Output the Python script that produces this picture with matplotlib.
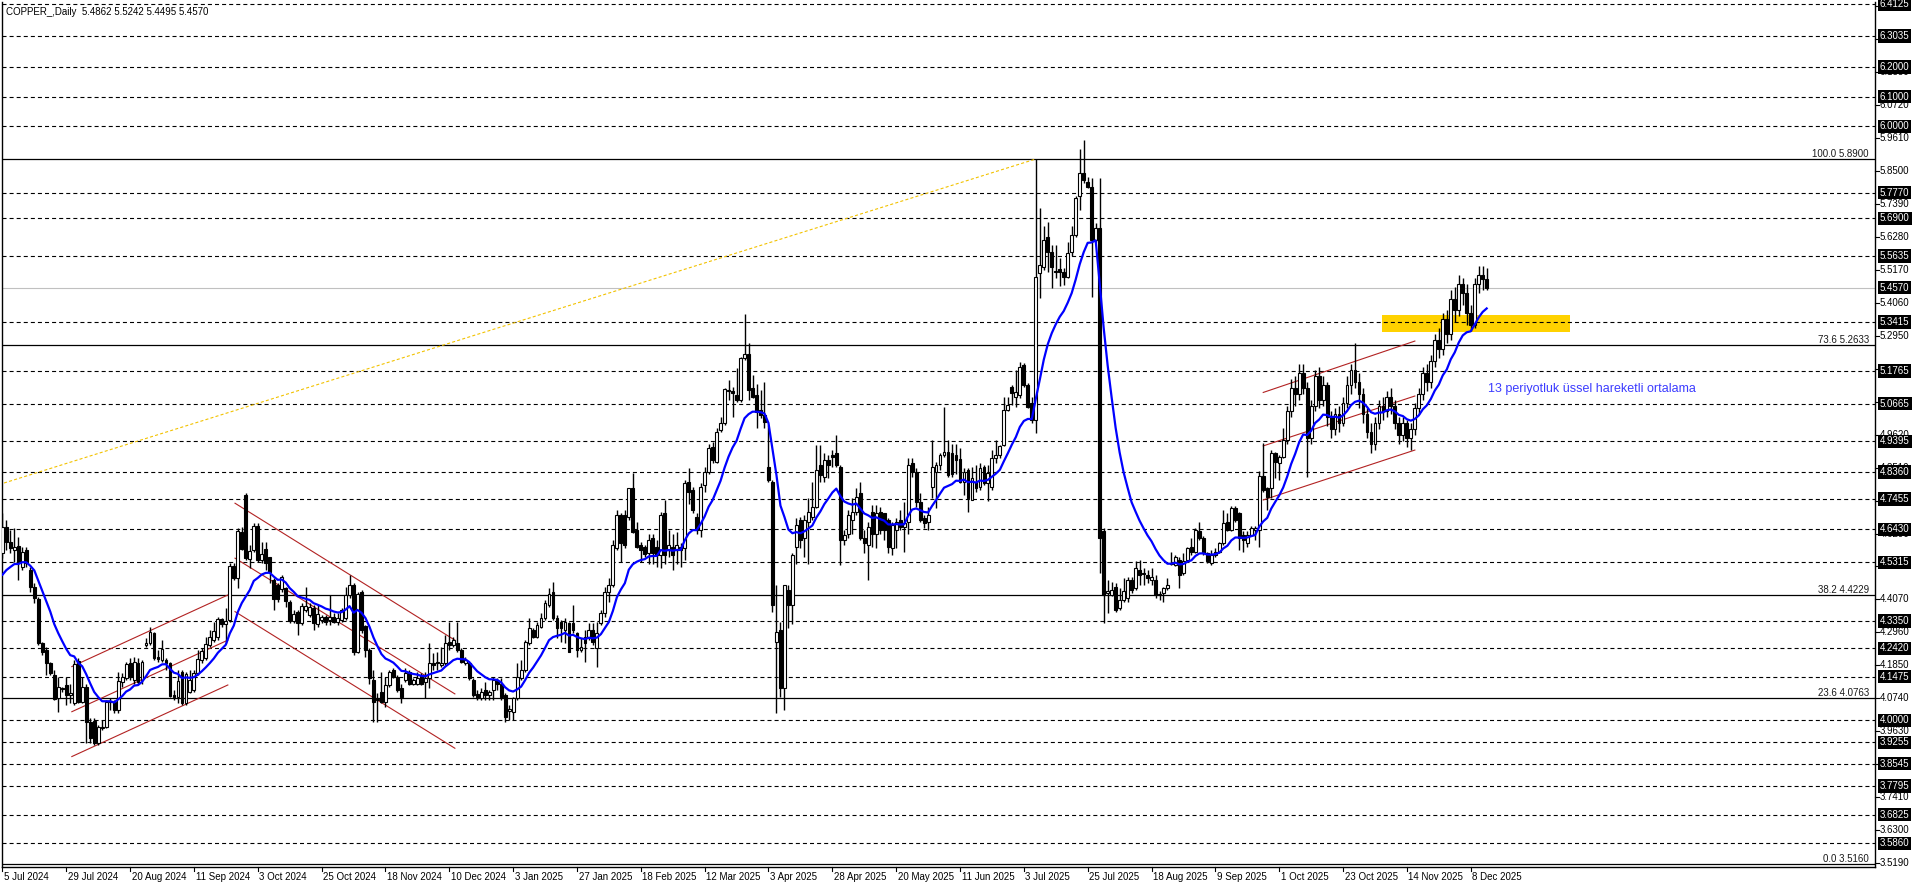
import matplotlib
matplotlib.use("Agg")
import matplotlib.pyplot as plt
import numpy as np
from matplotlib.patches import Rectangle

plt.rcParams['font.family'] = ['Liberation Sans', 'DejaVu Sans']
plt.rcParams['lines.scale_dashes'] = False

# ---------------- data (O, H, L, C) per daily bar ----------------
bars_jul_oct_2024 = [
    (4.562, 4.697, 4.545, 4.652), (4.652, 4.674, 4.574, 4.601), (4.601, 4.641, 4.562, 4.579),
    (4.574, 4.646, 4.534, 4.585), (4.587, 4.618, 4.472, 4.529), (4.517, 4.585, 4.506, 4.568),
    (4.574, 4.585, 4.517, 4.529), (4.506, 4.517, 4.433, 4.450), (4.450, 4.461, 4.394, 4.411),
    (4.407, 4.416, 4.254, 4.259), (4.259, 4.265, 4.220, 4.231), (4.237, 4.248, 4.153, 4.192),
    (4.192, 4.197, 4.153, 4.158), (4.153, 4.169, 4.068, 4.071), (4.074, 4.147, 4.029, 4.111),
    (4.108, 4.113, 4.096, 4.104), (4.119, 4.147, 4.052, 4.085), (4.085, 4.124, 4.057, 4.093),
    (4.057, 4.203, 4.052, 4.190), (4.201, 4.209, 4.057, 4.063), (4.063, 4.147, 4.057, 4.113),
    (4.113, 4.124, 3.922, 3.996), (3.996, 4.007, 3.922, 3.939), (3.999, 4.007, 3.917, 3.922),
    (3.925, 3.984, 3.917, 3.976), (3.973, 4.001, 3.967, 3.979), (3.979, 4.068, 3.973, 4.063),
    (4.061, 4.074, 4.035, 4.065), (4.063, 4.068, 4.024, 4.035), (4.035, 4.164, 4.024, 4.133),
    (4.130, 4.158, 4.113, 4.145), (4.141, 4.197, 4.136, 4.190), (4.194, 4.209, 4.136, 4.147),
    (4.136, 4.214, 4.124, 4.195), (4.192, 4.209, 4.124, 4.130), (4.136, 4.203, 4.124, 4.195),
    (4.254, 4.276, 4.248, 4.261), (4.259, 4.315, 4.254, 4.296), (4.293, 4.298, 4.203, 4.209),
    (4.212, 4.237, 4.197, 4.208), (4.203, 4.270, 4.197, 4.240), (4.203, 4.209, 4.169, 4.192),
    (4.192, 4.197, 4.080, 4.082), (4.084, 4.102, 4.068, 4.080), (4.080, 4.169, 4.057, 4.133),
    (4.164, 4.169, 4.052, 4.059), (4.059, 4.164, 4.052, 4.156), (4.096, 4.169, 4.091, 4.136),
    (4.102, 4.169, 4.096, 4.158), (4.158, 4.237, 4.153, 4.206), (4.203, 4.242, 4.192, 4.235),
    (4.209, 4.282, 4.203, 4.257), (4.254, 4.304, 4.248, 4.279), (4.270, 4.332, 4.265, 4.302),
    (4.282, 4.349, 4.270, 4.341), (4.341, 4.343, 4.315, 4.323), (4.323, 4.377, 4.259, 4.336),
    (4.338, 4.529, 4.332, 4.521), (4.521, 4.529, 4.472, 4.478), (4.478, 4.646, 4.444, 4.639),
    (4.635, 4.652, 4.574, 4.576), (4.759, 4.764, 4.540, 4.545), (4.542, 4.590, 4.512, 4.571),
    (4.574, 4.663, 4.568, 4.655), (4.655, 4.663, 4.534, 4.540), (4.540, 4.601, 4.529, 4.560),
    (4.576, 4.601, 4.506, 4.529), (4.549, 4.551, 4.461, 4.500), (4.472, 4.478, 4.371, 4.407),
    (4.456, 4.461, 4.399, 4.407), (4.441, 4.489, 4.433, 4.481), (4.444, 4.450, 4.383, 4.402),
    (4.399, 4.405, 4.327, 4.334), (4.334, 4.371, 4.327, 4.358), (4.366, 4.371, 4.287, 4.329),
    (4.329, 4.394, 4.321, 4.386), (4.371, 4.450, 4.366, 4.386), (4.355, 4.394, 4.349, 4.380),
    (4.377, 4.388, 4.304, 4.329), (4.323, 4.388, 4.315, 4.358),
]

bars_oct_2024_feb_2025 = [
    (4.338, 4.355, 4.327, 4.349), (4.349, 4.355, 4.321, 4.332), (4.338, 4.422, 4.321, 4.349),
    (4.349, 4.360, 4.327, 4.332), (4.332, 4.360, 4.321, 4.343), (4.338, 4.377, 4.332, 4.371),
    (4.343, 4.450, 4.338, 4.422), (4.422, 4.489, 4.411, 4.456), (4.456, 4.461, 4.220, 4.231),
    (4.231, 4.433, 4.227, 4.427), (4.433, 4.439, 4.293, 4.304), (4.318, 4.321, 4.214, 4.237),
    (4.237, 4.242, 4.124, 4.141), (4.136, 4.169, 3.996, 4.063), (4.068, 4.091, 3.996, 4.073),
    (4.096, 4.164, 4.057, 4.063), (4.063, 4.147, 4.046, 4.119), (4.119, 4.169, 4.113, 4.164),
    (4.169, 4.175, 4.141, 4.147), (4.147, 4.153, 4.096, 4.102), (4.108, 4.124, 4.057, 4.080),
    (4.136, 4.175, 4.130, 4.158), (4.164, 4.169, 4.119, 4.124), (4.124, 4.141, 4.119, 4.136),
    (4.124, 4.164, 4.119, 4.141), (4.153, 4.158, 4.119, 4.124), (4.130, 4.164, 4.074, 4.141),
    (4.141, 4.259, 4.108, 4.192), (4.194, 4.226, 4.169, 4.186), (4.197, 4.231, 4.169, 4.192),
    (4.186, 4.248, 4.181, 4.192), (4.192, 4.287, 4.186, 4.259), (4.265, 4.332, 4.237, 4.254),
    (4.254, 4.282, 4.248, 4.270), (4.259, 4.332, 4.231, 4.237), (4.237, 4.242, 4.192, 4.197),
    (4.192, 4.214, 4.186, 4.203), (4.192, 4.197, 4.136, 4.141), (4.136, 4.141, 4.080, 4.085),
    (4.088, 4.102, 4.068, 4.074), (4.074, 4.108, 4.068, 4.096), (4.102, 4.130, 4.068, 4.085),
    (4.085, 4.102, 4.068, 4.096), (4.102, 4.147, 4.068, 4.136), (4.133, 4.141, 4.102, 4.124),
    (4.124, 4.141, 4.068, 4.080), (4.085, 4.091, 3.996, 4.012), (4.033, 4.052, 4.001, 4.037),
    (4.029, 4.080, 4.001, 4.074), (4.074, 4.192, 4.068, 4.147), (4.141, 4.203, 4.136, 4.169),
    (4.169, 4.270, 4.164, 4.265), (4.259, 4.343, 4.254, 4.310), (4.304, 4.310, 4.276, 4.282),
    (4.282, 4.332, 4.276, 4.321), (4.315, 4.360, 4.310, 4.343), (4.343, 4.405, 4.338, 4.394),
    (4.388, 4.444, 4.383, 4.427), (4.433, 4.467, 4.338, 4.343), (4.343, 4.355, 4.276, 4.310),
    (4.332, 4.338, 4.265, 4.310), (4.304, 4.343, 4.259, 4.332), (4.327, 4.332, 4.231, 4.231),
    (4.327, 4.388, 4.293, 4.304), (4.293, 4.298, 4.214, 4.237), (4.237, 4.276, 4.231, 4.248),
    (4.282, 4.304, 4.197, 4.259), (4.282, 4.327, 4.270, 4.304), (4.304, 4.327, 4.254, 4.265),
    (4.242, 4.332, 4.181, 4.293), (4.327, 4.371, 4.321, 4.360), (4.360, 4.450, 4.349, 4.433),
    (4.433, 4.478, 4.399, 4.456), (4.456, 4.607, 4.450, 4.590), (4.579, 4.708, 4.574, 4.691),
    (4.691, 4.697, 4.534, 4.596), (4.691, 4.708, 4.579, 4.590), (4.686, 4.781, 4.674, 4.781),
    (4.781, 4.832, 4.630, 4.635), (4.641, 4.669, 4.579, 4.585), (4.590, 4.601, 4.534, 4.574),
    (4.585, 4.590, 4.551, 4.560),
]

bars_feb_jun_2025 = [
    (4.562, 4.629, 4.528, 4.607), (4.613, 4.629, 4.528, 4.562), (4.584, 4.607, 4.517, 4.556),
    (4.556, 4.702, 4.512, 4.691), (4.697, 4.742, 4.528, 4.556), (4.573, 4.641, 4.551, 4.590),
    (4.584, 4.629, 4.506, 4.556), (4.573, 4.635, 4.528, 4.590), (4.584, 4.596, 4.517, 4.573),
    (4.579, 4.809, 4.540, 4.798), (4.803, 4.848, 4.730, 4.770), (4.775, 4.786, 4.697, 4.708),
    (4.685, 4.697, 4.629, 4.641), (4.641, 4.798, 4.618, 4.786), (4.792, 4.854, 4.770, 4.837),
    (4.837, 4.932, 4.831, 4.916), (4.921, 4.938, 4.865, 4.876), (4.871, 4.983, 4.865, 4.972),
    (4.977, 5.022, 4.972, 5.000), (5.000, 5.118, 4.994, 5.114), (5.110, 5.146, 5.078, 5.112),
    (5.110, 5.123, 5.022, 5.101), (5.095, 5.185, 5.073, 5.078), (5.078, 5.224, 5.073, 5.219),
    (5.219, 5.368, 5.213, 5.235), (5.235, 5.269, 5.078, 5.112), (5.118, 5.162, 5.084, 5.090),
    (5.095, 5.134, 4.983, 5.039), (5.045, 5.112, 5.017, 5.028), (5.028, 5.140, 4.983, 5.005),
    (4.854, 4.994, 4.803, 4.809), (4.803, 4.809, 4.366, 4.388), (4.265, 4.455, 4.023, 4.298),
    (4.304, 4.332, 4.079, 4.108), (4.108, 4.455, 4.035, 4.455), (4.439, 4.455, 4.310, 4.388),
    (4.388, 4.562, 4.326, 4.556), (4.584, 4.680, 4.528, 4.657), (4.674, 4.685, 4.579, 4.607),
    (4.613, 4.691, 4.551, 4.674), (4.669, 4.747, 4.528, 4.702), (4.685, 4.803, 4.674, 4.719),
    (4.719, 4.927, 4.714, 4.843), (4.859, 4.927, 4.803, 4.826), (4.820, 4.899, 4.803, 4.876),
    (4.876, 4.893, 4.815, 4.860), (4.893, 4.910, 4.854, 4.888), (4.899, 4.960, 4.854, 4.859),
    (4.854, 4.859, 4.523, 4.607), (4.607, 4.641, 4.590, 4.624), (4.629, 4.708, 4.613, 4.691),
    (4.674, 4.747, 4.629, 4.702), (4.702, 4.781, 4.691, 4.753), (4.764, 4.803, 4.607, 4.613),
    (4.613, 4.641, 4.562, 4.596), (4.590, 4.669, 4.472, 4.652), (4.702, 4.725, 4.584, 4.629),
    (4.629, 4.725, 4.579, 4.697), (4.702, 4.719, 4.629, 4.641), (4.697, 4.697, 4.607, 4.641),
    (4.674, 4.680, 4.562, 4.584), (4.579, 4.669, 4.556, 4.657), (4.641, 4.680, 4.579, 4.669),
    (4.674, 4.708, 4.641, 4.652), (4.652, 4.736, 4.568, 4.663), (4.669, 4.882, 4.629, 4.859),
    (4.865, 4.882, 4.820, 4.837), (4.837, 4.848, 4.719, 4.736), (4.736, 4.764, 4.669, 4.674),
    (4.680, 4.691, 4.646, 4.663), (4.669, 4.719, 4.641, 4.691), (4.786, 4.944, 4.747, 4.854),
    (4.837, 4.871, 4.714, 4.859), (4.859, 4.899, 4.843, 4.893), (4.893, 5.056, 4.888, 4.904),
    (4.904, 4.944, 4.820, 4.826), (4.899, 4.932, 4.820, 4.831), (4.893, 4.932, 4.831, 4.876),
    (4.879, 4.916, 4.798, 4.803), (4.803, 4.848, 4.758, 4.837),
]

bars_jun_sep_2025 = [
    (4.843, 4.849, 4.703, 4.748), (4.742, 4.854, 4.742, 4.815), (4.804, 4.860, 4.770, 4.781),
    (4.787, 4.866, 4.776, 4.849), (4.854, 4.860, 4.792, 4.798), (4.798, 4.860, 4.737, 4.832),
    (4.787, 4.911, 4.776, 4.883), (4.883, 4.944, 4.866, 4.894), (4.894, 4.927, 4.883, 4.922),
    (4.927, 5.090, 4.922, 5.045), (5.045, 5.090, 5.040, 5.062), (5.124, 5.129, 5.062, 5.101),
    (5.090, 5.180, 5.056, 5.107), (5.096, 5.208, 5.085, 5.191), (5.197, 5.202, 5.124, 5.129),
    (5.129, 5.135, 5.051, 5.056), (5.068, 5.090, 5.000, 5.012), (5.012, 5.889, 4.967, 5.494),
    (5.505, 5.724, 5.421, 5.533), (5.528, 5.663, 5.517, 5.618), (5.629, 5.679, 5.511, 5.578),
    (5.578, 5.601, 5.455, 5.528), (5.514, 5.601, 5.489, 5.511), (5.519, 5.556, 5.461, 5.511),
    (5.511, 5.522, 5.466, 5.494), (5.494, 5.612, 5.489, 5.575), (5.578, 5.663, 5.562, 5.634),
    (5.634, 5.764, 5.629, 5.758), (5.764, 5.923, 5.719, 5.842), (5.842, 5.954, 5.808, 5.820),
    (5.814, 5.831, 5.792, 5.797), (5.797, 5.825, 5.427, 5.618), (5.618, 5.674, 5.612, 5.657),
    (5.657, 5.825, 4.495, 4.613), (4.636, 4.647, 4.327, 4.422), (4.428, 4.473, 4.360, 4.434),
    (4.422, 4.467, 4.417, 4.439), (4.450, 4.462, 4.366, 4.372), (4.377, 4.445, 4.372, 4.406),
    (4.406, 4.478, 4.400, 4.434), (4.411, 4.484, 4.400, 4.473), (4.473, 4.484, 4.428, 4.439),
    (4.445, 4.535, 4.439, 4.512), (4.507, 4.540, 4.456, 4.490), (4.495, 4.512, 4.456, 4.493),
    (4.490, 4.507, 4.462, 4.478), (4.473, 4.512, 4.456, 4.484), (4.473, 4.490, 4.411, 4.422),
    (4.425, 4.434, 4.406, 4.422), (4.428, 4.450, 4.400, 4.445), (4.445, 4.478, 4.439, 4.456),
    (4.527, 4.568, 4.523, 4.529), (4.523, 4.557, 4.518, 4.551), (4.540, 4.551, 4.445, 4.490),
    (4.495, 4.563, 4.490, 4.535), (4.540, 4.585, 4.535, 4.579), (4.585, 4.613, 4.557, 4.568),
    (4.568, 4.647, 4.563, 4.641), (4.636, 4.669, 4.608, 4.613), (4.613, 4.619, 4.557, 4.563),
    (4.563, 4.568, 4.529, 4.535), (4.529, 4.574, 4.523, 4.557), (4.557, 4.579, 4.551, 4.568),
    (4.568, 4.602, 4.563, 4.596), (4.596, 4.709, 4.591, 4.664), (4.669, 4.697, 4.636, 4.641),
    (4.641, 4.720, 4.636, 4.714), (4.714, 4.720, 4.669, 4.675), (4.697, 4.703, 4.574, 4.613),
    (4.624, 4.636, 4.568, 4.608), (4.596, 4.636, 4.585, 4.624), (4.624, 4.653, 4.619, 4.647),
    (4.641, 4.653, 4.608, 4.647), (4.641, 4.838, 4.585, 4.821), (4.821, 4.933, 4.770, 4.776),
    (4.781, 4.787, 4.709, 4.753), (4.781, 4.911, 4.748, 4.899), (4.899, 4.905, 4.815, 4.871),
    (4.866, 4.894, 4.810, 4.888), (4.888, 4.984, 4.883, 4.944),
]

bars_oct_dec_2025 = [
    (4.944, 5.060, 4.930, 5.040), (5.040, 5.150, 5.020, 5.120), (5.120, 5.160, 5.060, 5.100),
    (5.100, 5.200, 5.080, 5.170), (5.170, 5.200, 5.100, 5.120), (5.120, 5.140, 4.820, 4.950),
    (4.950, 5.080, 4.930, 5.060), (5.060, 5.180, 5.040, 5.160), (5.160, 5.190, 5.050, 5.080),
    (5.080, 5.160, 5.060, 5.130), (5.130, 5.140, 4.990, 5.020), (5.020, 5.040, 4.950, 4.980),
    (4.980, 5.050, 4.960, 5.030), (5.030, 5.060, 4.970, 5.000), (5.000, 5.090, 4.990, 5.070),
    (5.070, 5.160, 5.050, 5.130), (5.130, 5.200, 5.100, 5.180), (5.180, 5.270, 5.120, 5.140),
    (5.140, 5.170, 5.050, 5.100), (5.100, 5.120, 5.000, 5.030), (5.030, 5.050, 4.950, 4.970),
    (4.970, 5.000, 4.900, 4.930), (4.930, 5.020, 4.910, 5.000), (5.000, 5.080, 4.980, 5.060),
    (5.060, 5.090, 5.010, 5.040), (5.040, 5.110, 5.020, 5.090), (5.090, 5.120, 5.030, 5.060),
    (5.060, 5.080, 4.980, 5.000), (5.000, 5.020, 4.930, 4.960), (4.960, 5.020, 4.940, 5.000),
    (5.000, 5.010, 4.920, 4.950), (4.950, 5.000, 4.910, 4.980), (4.980, 5.070, 4.960, 5.050),
    (5.050, 5.120, 5.030, 5.100), (5.100, 5.190, 5.080, 5.170), (5.170, 5.200, 5.110, 5.140),
    (5.140, 5.230, 5.120, 5.210), (5.210, 5.300, 5.190, 5.280), (5.280, 5.320, 5.220, 5.250),
    (5.250, 5.370, 5.230, 5.350), (5.350, 5.380, 5.270, 5.300), (5.300, 5.450, 5.280, 5.420),
    (5.420, 5.460, 5.340, 5.380), (5.380, 5.500, 5.360, 5.470), (5.470, 5.490, 5.400, 5.440),
    (5.440, 5.470, 5.330, 5.370), (5.370, 5.400, 5.310, 5.330), (5.330, 5.490, 5.320, 5.470),
    (5.470, 5.530, 5.440, 5.500), (5.500, 5.530, 5.450, 5.486), (5.4862, 5.5242, 5.4495, 5.4570),
]

ema_period = 13
ema_seed = 4.463          # EMA value just before the first visible bar

date_labels = ["5 Jul 2024", "29 Jul 2024", "20 Aug 2024", "11 Sep 2024", "3 Oct 2024",
               "25 Oct 2024", "18 Nov 2024", "10 Dec 2024", "3 Jan 2025", "27 Jan 2025",
               "18 Feb 2025", "12 Mar 2025", "3 Apr 2025", "28 Apr 2025", "20 May 2025",
               "11 Jun 2025", "3 Jul 2025", "25 Jul 2025", "18 Aug 2025", "9 Sep 2025",
               "1 Oct 2025", "23 Oct 2025", "14 Nov 2025", "8 Dec 2025"]
bars_per_label = 16

hline_levels = [6.4125, 6.3035, 6.2000, 6.1000, 6.0000, 5.7770, 5.6900, 5.5635, 5.3415,
                5.1765, 5.0665, 4.9395, 4.8360, 4.7455, 4.6430, 4.5315, 4.3350, 4.2420,
                4.1475, 4.0000, 3.9255, 3.8545, 3.7795, 3.6825, 3.5860]
current_price = 5.4570
fib_levels = [(0.0, 3.5160), (23.6, 4.0763), (38.2, 4.4229), (73.6, 5.2633), (100.0, 5.8900)]
fib_anchor_low = (-303.7, 3.5160)
fib_anchor_high = (259, 5.8900)

axis_tick_start = 3.519
axis_tick_step = 0.111
axis_tick_count = 27

channel_2024_up = [((17.4, 4.181), (56.5, 4.422)), ((17.4, 4.029), (56.5, 4.270)),
                   ((17.4, 3.878), (56.5, 4.119))]
channel_2024_down = [((58.3, 4.731), (113.4, 4.270)), ((58.3, 4.546), (113.4, 4.089)),
                     ((58.3, 4.366), (113.4, 3.906))]
channel_2025_up = [((316.0, 5.104), (354.0, 5.277)), ((316.0, 4.924), (354.0, 5.092)),
                   ((316.0, 4.742), (354.0, 4.910))]

zone_bars = (345.7, 392.9)
zone_prices = (5.309, 5.365)

title_text = "COPPER_,Daily  5.4862 5.5242 5.4495 5.4570"
ema_note = "13 periyotluk üssel hareketli ortalama"
ema_note_pos = (372.3, 5.106)

# ---------------- build ----------------
ohlc = np.array(bars_jul_oct_2024 + bars_oct_2024_feb_2025 + bars_feb_jun_2025
                + bars_jun_sep_2025 + bars_oct_dec_2025)
O, Hh, Ll, C = ohlc[:, 0], ohlc[:, 1], ohlc[:, 2], ohlc[:, 3]
n = len(C)
idx = np.arange(n)

alpha = 2.0 / (ema_period + 1)
ema = np.empty(n)
prev = ema_seed
for i in range(n):
    prev = prev + alpha * (C[i] - prev)
    ema[i] = prev

W, Hpx = 1916, 888
fig = plt.figure(figsize=(W / 100, Hpx / 100), dpi=100)
L, R, T, B = 2, 1875, 2, 867
ax = fig.add_axes([L / W, 1 - B / Hpx, (R - L) / W, (B - T) / Hpx])
px_per_bar = 3.99
x0 = 2.4
ax.set_xlim((L - x0) / px_per_bar, (R - x0) / px_per_bar)
ppu = 297.0
ax.set_ylim(5.89 - (B - 159) / ppu, 5.89 + (159 - T) / ppu)
ax.set_xticks([])
ax.set_yticks([])
ax.spines['top'].set_visible(False)
for s in ['left', 'right', 'bottom']:
    ax.spines[s].set_linewidth(1.0)
    ax.spines[s].set_color('black')

# zone
ax.add_patch(Rectangle((zone_bars[0], zone_prices[0]), zone_bars[1] - zone_bars[0],
                       zone_prices[1] - zone_prices[0], facecolor='#FFD200',
                       edgecolor='none', zorder=1))

# dashed horizontal levels
for lv in hline_levels:
    ax.axhline(lv, color='black', lw=0.8, linestyle=(0, (2.9, 2.2)), zorder=2)
ax.axhline(current_price, color='#C0C0C0', lw=0.8, zorder=2)
for pct, lv in fib_levels:
    ax.axhline(lv, color='black', lw=0.9, zorder=2)
    ax.text((1869 - L) / (R - L), lv, f"{pct:.1f} {lv:.4f}",
            transform=ax.get_yaxis_transform(), ha='right', va='bottom',
            fontsize=7, color='#1a1a1a', zorder=5)

# fib diagonal
ax.plot([fib_anchor_low[0], fib_anchor_high[0]], [fib_anchor_low[1], fib_anchor_high[1]],
        color='#F2C200', lw=0.8, linestyle=(0, (2.2, 1.6)), zorder=2)

# channels
for group in (channel_2024_up, channel_2024_down, channel_2025_up):
    for (xa, ya), (xb, yb) in group:
        ax.plot([xa, xb], [ya, yb], color='#B22222', lw=0.8, zorder=3)

# candles
ax.vlines(idx, Ll, Hh, color='black', lw=1.0, zorder=4)
up = C >= O
bw = 0.72
ax.bar(idx[up], np.maximum(C[up] - O[up], 0.002), bottom=O[up], width=bw,
       color='white', edgecolor='black', linewidth=0.8, zorder=5)
ax.bar(idx[~up], np.maximum(O[~up] - C[~up], 0.002), bottom=C[~up], width=bw,
       color='black', edgecolor='black', linewidth=0.8, zorder=5)

# EMA
ax.plot(idx, ema, color='#0000FF', lw=1.6, zorder=6)
ax.text(ema_note_pos[0], ema_note_pos[1], ema_note, color='#3C3CFF', fontsize=9,
        ha='left', va='baseline', zorder=7)

# right price axis
ytr = ax.get_yaxis_transform()
lab_x = 1.0 + 5 / (R - L)
for k in range(axis_tick_count):
    v = axis_tick_start + k * axis_tick_step
    ax.plot([1.0, 1.0 + 4 / (R - L)], [v, v], color='black', lw=0.8,
            transform=ytr, clip_on=False)
    ax.text(lab_x, v, f"{v:.4f}", transform=ytr, ha='left', va='center',
            fontsize=7, color='black', clip_on=False, zorder=8)
for lv in hline_levels + [current_price]:
    ax.text(lab_x, lv, f"{lv:.4f}", transform=ytr, ha='left', va='center',
            fontsize=7, color='white', clip_on=False, zorder=9,
            bbox=dict(boxstyle='square,pad=0.18', fc='black', ec='none'))

# bottom date axis
xtr = ax.get_xaxis_transform()
for k, lab in enumerate(date_labels):
    b = k * bars_per_label
    ax.plot([b, b], [0, -4 / (B - T)], color='black', lw=0.8, transform=xtr, clip_on=False)
    ax.text(b + 0.4, -10 / (B - T), lab, transform=xtr, ha='left', va='center',
            fontsize=7, color='black', clip_on=False)

fig.text(6 / W, 1 - 12 / Hpx, title_text, fontsize=7, color='black', ha='left', va='center')

fig.savefig("out.png", dpi=100, facecolor='white')
